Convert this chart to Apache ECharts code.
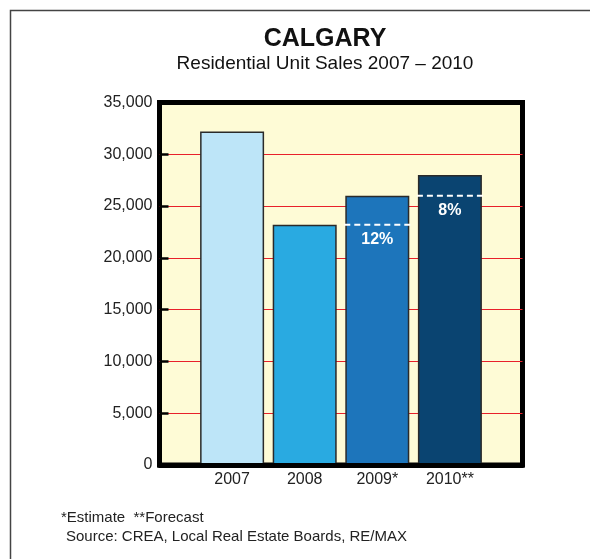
<!DOCTYPE html>
<html>
<head>
<meta charset="utf-8">
<script src="https://cdn.jsdelivr.net/npm/echarts@6/dist/echarts.min.js"></script>
<style>
  html, body { margin: 0; padding: 0; background: #fff; }
  #chart { width: 590px; height: 559px; }
</style>
</head>
<body>
<div id="chart"></div>
<script>
// 数据
const categories = ["2007", "2008", "2009*", "2010**"];
const sales = [32200, 23200, 26000, 28000];
const barColors = ["#bde5f8", "#29aae1", "#1d75bb", "#0a4471"];
// 增长率标签，虚线画在上一年的数值处
const growthLabels = ["", "", "12%", "8%"];
const yTicks = [0, 5000, 10000, 15000, 20000, 25000, 30000, 35000];

const font = "'Liberation Sans', Arial, Helvetica, sans-serif";

// 左右各留一个空类目，让柱子居中在框内
const xData = [""].concat(categories, [""]);
const barData = ["-"].concat(
  sales.map((v, i) => ({ value: v, itemStyle: { color: barColors[i] } })),
  ["-"]
);
const growthData = [];
growthLabels.forEach((label, i) => {
  if (label) growthData.push({ value: [i + 1, sales[i - 1]], label: label });
});

const myEcharts = echarts.init(document.getElementById("chart"), null, { renderer: "canvas" });
const option = {
  backgroundColor: "#fff",
  animation: false,
  title: [
    {
      text: "CALGARY",
      left: 320,
      top: 22,
      textAlign: "center",
      textStyle: { fontFamily: font, fontSize: 25, fontWeight: "bold", color: "#111" },
    },
    {
      text: "Residential Unit Sales 2007 – 2010",
      left: 320,
      top: 49,
      textAlign: "center",
      textStyle: { fontFamily: font, fontSize: 19, fontWeight: "normal", color: "#111" },
    },
    {
      text: "*Estimate  **Forecast",
      left: 56,
      top: 505,
      textStyle: { fontFamily: font, fontSize: 15, fontWeight: "normal", color: "#222" },
    },
    {
      text: "Source: CREA, Local Real Estate Boards, RE/MAX",
      left: 61,
      top: 524,
      textStyle: { fontFamily: font, fontSize: 15, fontWeight: "normal", color: "#222" },
    },
  ],
  graphic: [
    {
      type: "rect",
      left: 8,
      top: 8,
      shape: { width: 640, height: 640 },
      style: { fill: "none", stroke: "#444", lineWidth: 1.5 },
      silent: true,
    },
  ],
  grid: {
    left: 159.5,
    right: 67.5,
    top: 102.5,
    bottom: 94,
    show: true,
    backgroundColor: "#fefbd6",
    borderColor: "#000",
    borderWidth: 5,
  },
  xAxis: {
    type: "category",
    data: xData,
    boundaryGap: false,
    z: 10,
    axisLine: { show: true, lineStyle: { color: "#000", width: 5 } },
    axisTick: { show: false },
    splitLine: { show: false },
    axisLabel: {
      color: "#222",
      fontFamily: font,
      fontSize: 16,
      margin: 7,
      interval: 0,
    },
  },
  yAxis: {
    type: "value",
    min: 0,
    max: 35000,
    interval: 5000,
    axisLine: { show: false },
    axisTick: {
      show: true,
      inside: true,
      length: 9,
      lineStyle: { color: "#000", width: 2.5 },
    },
    splitLine: {
      show: true,
      showMinLine: false,
      showMaxLine: false,
      lineStyle: { color: "#e8202a", width: 1.2 },
    },
    axisLabel: {
      color: "#222",
      fontFamily: font,
      fontSize: 16,
      margin: 7,
      formatter: (v) => (yTicks.indexOf(v) > -1 ? String(v).replace(/\B(?=(\d{3})+(?!\d))/g, ",") : ""),
    },
  },
  series: [
    {
      type: "bar",
      data: barData,
      barWidth: 64,
      itemStyle: { borderColor: "#2a2a2a", borderWidth: 1.5 },
      z: 2,
    },
    {
      // 白色虚线 + 增长率
      type: "custom",
      data: growthData,
      z: 3,
      renderItem: (params, api) => {
        const p = api.coord([api.value(0), api.value(1)]);
        const half = 33;
        return {
          type: "group",
          children: [
            {
              type: "line",
              shape: { x1: p[0] - half, y1: p[1], x2: p[0] + half, y2: p[1] },
              style: { stroke: "#fff", lineWidth: 2, lineDash: [6, 4] },
            },
            {
              type: "text",
              x: p[0],
              y: p[1] + 15,
              style: {
                text: growthData[params.dataIndex].label,
                fill: "#fff",
                font: "bold 16px " + font,
                align: "center",
                verticalAlign: "middle",
              },
            },
          ],
        };
      },
    },
  ],
};
myEcharts.setOption(option);
</script>
</body>
</html>
